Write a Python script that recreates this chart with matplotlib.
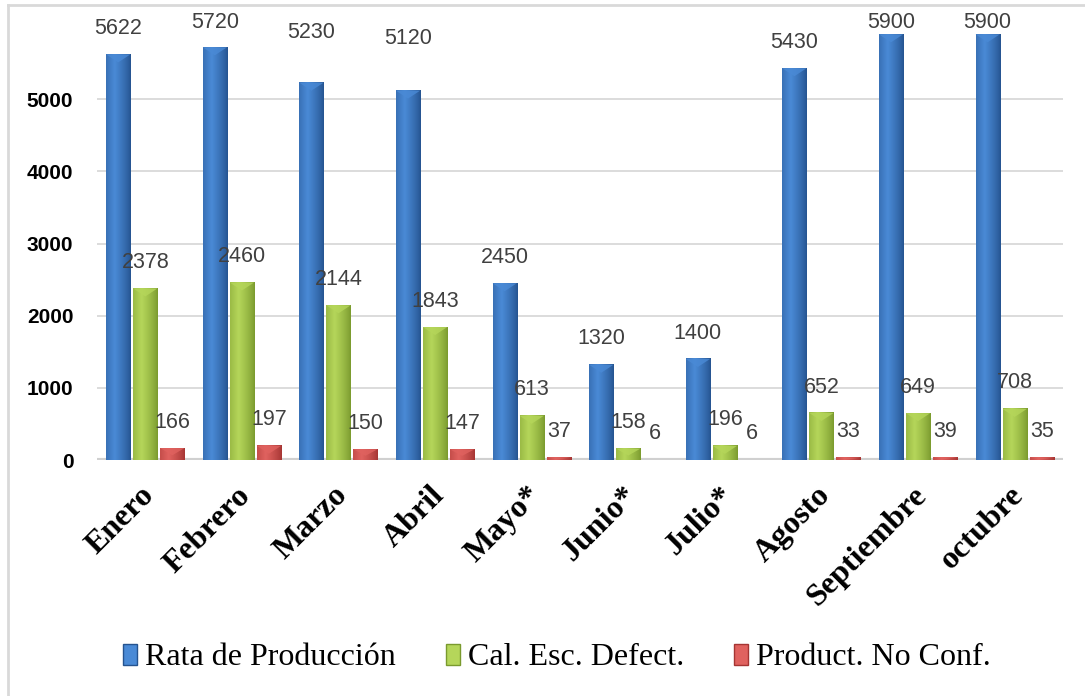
import numpy as np
import matplotlib
matplotlib.use('Agg')
import matplotlib.pyplot as plt
from matplotlib.patches import Patch, Polygon
from matplotlib.lines import Line2D
from matplotlib.colors import to_rgb

# datos por mes
meses = ['Enero', 'Febrero', 'Marzo', 'Abril', 'Mayo*', 'Junio*', 'Julio*',
         'Agosto', 'Septiembre', 'octubre']
rata_produccion = [5622, 5720, 5230, 5120, 2450, 1320, 1400, 5430, 5900, 5900]
cal_esc_defect = [2378, 2460, 2144, 1843, 613, 158, 196, 652, 649, 708]
product_no_conf = [166, 197, 150, 147, 37, 6, 6, 33, 39, 35]
series_nombres = ['Rata de Producción', 'Cal. Esc. Defect.', 'Product. No Conf.']

# colores (borde oscuro, centro claro)
colores = [('#25538f', '#4a8ad6'), ('#7a9a2e', '#b5d65a'), ('#a53533', '#e0625f')]

fig = plt.figure(figsize=(10.85, 6.96), dpi=100)
ax = fig.add_axes([0.0894, 0.339, 0.8903, 0.622])

series = [rata_produccion, cal_esc_defect, product_no_conf]
x = np.arange(len(meses))
desp = [-0.28, 0.0, 0.28]
ancho = 0.25


def gradiente(oscuro, claro, n=64):
    t = np.linspace(0, 1, n)
    # perfil tipo cilindro: claro cerca del 35%, oscuro en los bordes
    perfil = np.clip(1 - np.abs(t - 0.35) / 0.65, 0, 1) ** 0.8
    c0, c1 = np.array(to_rgb(oscuro)), np.array(to_rgb(claro))
    return (c0[None, :] + (c1 - c0)[None, :] * perfil[:, None])[None, :, :]


# ajuste de etiquetas que Excel movio a mano
subir = {(0, 2): 340, (0, 3): 365}

for k, (vals, (osc, cla)) in enumerate(zip(series, colores)):
    barras = ax.bar(x + desp[k], vals, width=ancho, color='none', zorder=3)
    img = gradiente(osc, cla)
    for j, b in enumerate(barras):
        bx, bw, bh = b.get_x(), b.get_width(), b.get_height()
        if bh >= 10:
            ax.imshow(img, extent=[bx, bx + bw, 0, bh], aspect='auto', zorder=3,
                      interpolation='bilinear')
            # bisel superior
            prof = min(110, bh * 0.6)
            tri = Polygon([[bx, bh], [bx + bw, bh], [bx + bw / 2, bh - prof]],
                          closed=True, facecolor=cla, edgecolor='none', alpha=0.8,
                          zorder=4)
            ax.add_patch(tri)
        y_lab = min(vals[j] + 360, 6066) + subir.get((k, j), 0)
        ax.text(bx + bw / 2, y_lab, str(vals[j]), ha='center', va='center',
                fontsize=15.5, color='#404040', family='Liberation Sans',
                zorder=5, clip_on=False)

ax.set_xlim(-0.5, len(meses) - 0.5)
ax.set_ylim(0, 6000)
ax.set_yticks([0, 1000, 2000, 3000, 4000, 5000])
ax.set_yticklabels(['0', '1000', '2000', '3000', '4000', '5000'],
                   fontsize=15, fontweight='bold', family='Liberation Sans')
ax.tick_params(axis='y', length=0, pad=17)
ax.tick_params(axis='x', length=0)
ax.grid(axis='y', color='#d9d9d9', linewidth=1.3, zorder=0)
ax.axhline(0, color='#d0d0d0', linewidth=3, zorder=2)
for s in ax.spines.values():
    s.set_visible(False)

ax.set_xticks(x)
ax.set_xticklabels([])
for i, m in enumerate(meses):
    ax.annotate(m, xy=(i, 0), xycoords='data', xytext=(-4, -15),
                textcoords='offset points', rotation=45, rotation_mode='anchor',
                ha='right', va='top', fontsize=23, fontweight='bold',
                family='Liberation Serif', color='black')

handles = [Patch(facecolor=c[1], edgecolor=c[0], linewidth=1) for c in colores]
fig.legend(handles, series_nombres, loc='center', bbox_to_anchor=(0.5134, 0.0546),
           ncol=3, frameon=False, prop={'family': 'Liberation Serif', 'size': 23},
           handlelength=0.45, handleheight=0.65, handletextpad=0.25,
           columnspacing=1.55)

# marco exterior del grafico
fig.add_artist(Line2D([8 / 1085, 8 / 1085], [0, 1 - 5 / 696], color='#d9d9d9',
                      linewidth=2, transform=fig.transFigure))
fig.add_artist(Line2D([8 / 1085, 1], [1 - 5 / 696, 1 - 5 / 696], color='#d9d9d9',
                      linewidth=2, transform=fig.transFigure))

fig.savefig('out.png', dpi=100)
